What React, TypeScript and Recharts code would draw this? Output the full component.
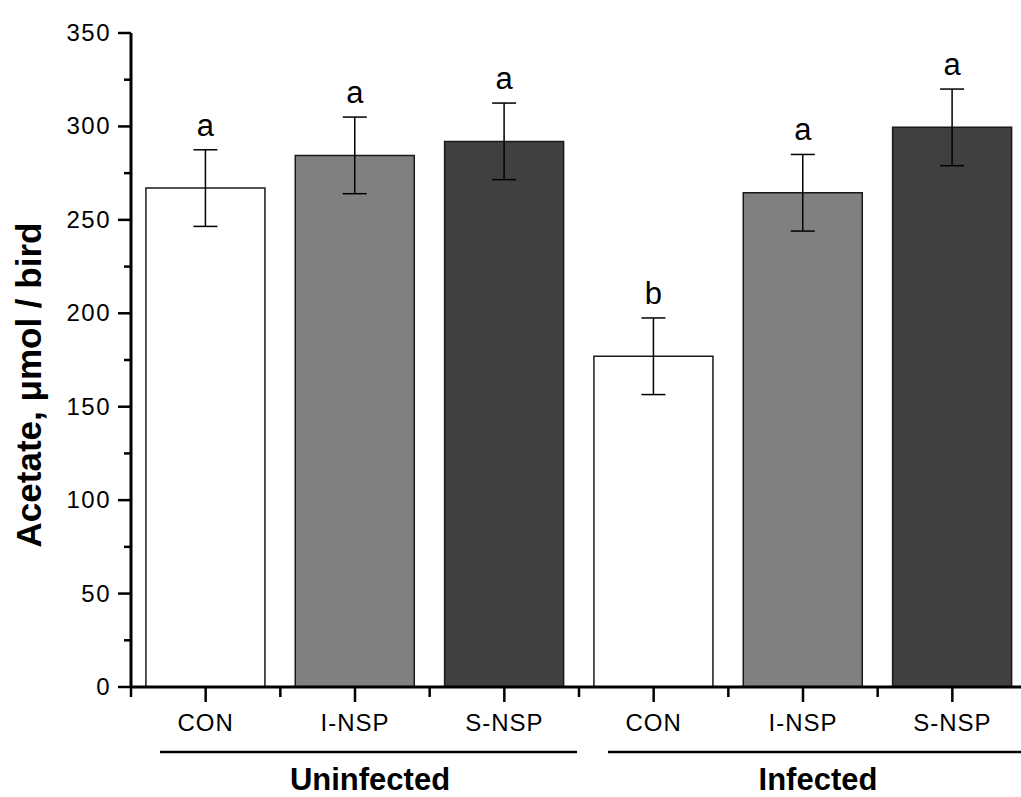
// Acetate per bird, by diet and infection status.
import { Bar, BarChart, Cell, ErrorBar, LabelList, XAxis, YAxis } from "recharts";

const categories = ["CON", "I-NSP", "S-NSP", "CON", "I-NSP", "S-NSP"];
const acetate = [267, 284.5, 292, 177, 264.5, 299.5];
const sem = [20.5, 20.5, 20.5, 20.5, 20.5, 20.5];
const letters = ["a", "a", "a", "b", "a", "a"];
const fills = ["#ffffff", "#808080", "#404040", "#ffffff", "#808080", "#404040"];
const groups = ["Uninfected", "Infected"];
const yTicks = [0, 25, 50, 75, 100, 125, 150, 175, 200, 225, 250, 275, 300, 325, 350];

const data = categories.map((name, i) => ({
  id: `${name}-${i}`,
  name,
  value: acetate[i],
  err: sem[i],
}));

const FONT = "'Liberation Sans', Arial, sans-serif";
const CHART_W = 1040;
const CHART_H = 797;
const MARGIN = { top: 33, right: 13, left: 0, bottom: 0 };
const Y_AXIS_W = 131;
const PLOT_W = CHART_W - MARGIN.left - MARGIN.right - Y_AXIS_W;
const BAND = PLOT_W / categories.length;

function YTick(props: any) {
  const { x, y, payload } = props;
  const major = payload.value % 50 === 0;
  return (
    <g>
      <line x1={x - (major ? 13 : 7)} x2={x} y1={y} y2={y} stroke="#000" strokeWidth={2.5} />
      {major && (
        <text x={x - 20} y={y} dy={8} textAnchor="end" fontSize={24} letterSpacing={1.5} fontFamily={FONT} fill="#000">
          {payload.value}
        </text>
      )}
    </g>
  );
}

function XTick(props: any) {
  const { x, y, payload, index } = props;
  const groupIdx = index === 1 ? 0 : index === 4 ? 1 : -1;
  return (
    <g>
      <line x1={x} x2={x} y1={y} y2={y + 15} stroke="#000" strokeWidth={2.5} />
      <line x1={x - BAND / 2} x2={x - BAND / 2} y1={y} y2={y + 10} stroke="#000" strokeWidth={2.5} />
      {index === categories.length - 1 && (
        <line x1={x + BAND / 2} x2={x + BAND / 2} y1={y} y2={y + 10} stroke="#000" strokeWidth={2.5} />
      )}
      <text x={x} y={y + 44} textAnchor="middle" fontSize={24} letterSpacing={1} fontFamily={FONT} fill="#000">
        {payload.value}
      </text>
      {groupIdx >= 0 && (
        <g>
          <line x1={x - 195} x2={x + 222} y1={y + 65} y2={y + 65} stroke="#000" strokeWidth={2.5} />
          <text x={x + 15} y={y + 103} textAnchor="middle" fontSize={31} fontWeight="bold" fontFamily={FONT} fill="#000">
            {groups[groupIdx]}
          </text>
        </g>
      )}
    </g>
  );
}

function Letter(props: any) {
  const { x, y, width, height, index } = props;
  const pxPerUnit = height / acetate[index];
  const top = y - sem[index] * pxPerUnit;
  return (
    <text x={x + width / 2} y={top - 14} textAnchor="middle" fontSize={31} fontFamily={FONT} fill="#000">
      {letters[index]}
    </text>
  );
}

function YLabel(props: any) {
  const { viewBox } = props;
  const cx = 28;
  const cy = viewBox.y + 352;
  return (
    <text
      x={cx}
      y={cy}
      transform={`rotate(-90, ${cx}, ${cy})`}
      textAnchor="middle"
      dominantBaseline="central"
      fontSize={35}
      fontWeight="bold"
      fontFamily={FONT}
      fill="#000"
    >
      Acetate, μmol / bird
    </text>
  );
}

export default function App() {
  return (
    <div style={{ position: "absolute", left: 0, top: 0, width: 1021, height: 797, overflow: "hidden", background: "#fff" }}>
      <BarChart width={CHART_W} height={CHART_H} data={data} margin={MARGIN} barCategoryGap="10%">
        <XAxis
          dataKey="id"
          height={CHART_H - MARGIN.top - 654}
          axisLine={{ stroke: "#000", strokeWidth: 3 }}
          tickLine={false}
          tickSize={0}
          tickMargin={0}
          interval={0}
          tick={(p: any) => <XTick {...p} payload={{ ...p.payload, value: categories[p.index] }} />}
        />
        <YAxis
          width={Y_AXIS_W}
          domain={[0, 350]}
          ticks={yTicks}
          interval={0}
          axisLine={{ stroke: "#000", strokeWidth: 3 }}
          tickLine={false}
          tickSize={0}
          tickMargin={0}
          tick={<YTick />}
          label={{ content: <YLabel /> }}
        />
        <Bar dataKey="value" stroke="#1a1a1a" strokeWidth={1.5} isAnimationActive={false}>
          {data.map((d, i) => (
            <Cell key={d.id} fill={fills[i]} />
          ))}
          <ErrorBar dataKey="err" width={12} stroke="#000" strokeWidth={1.5} isAnimationActive={false} />
          <LabelList dataKey="value" content={<Letter />} />
        </Bar>
      </BarChart>
    </div>
  );
}
